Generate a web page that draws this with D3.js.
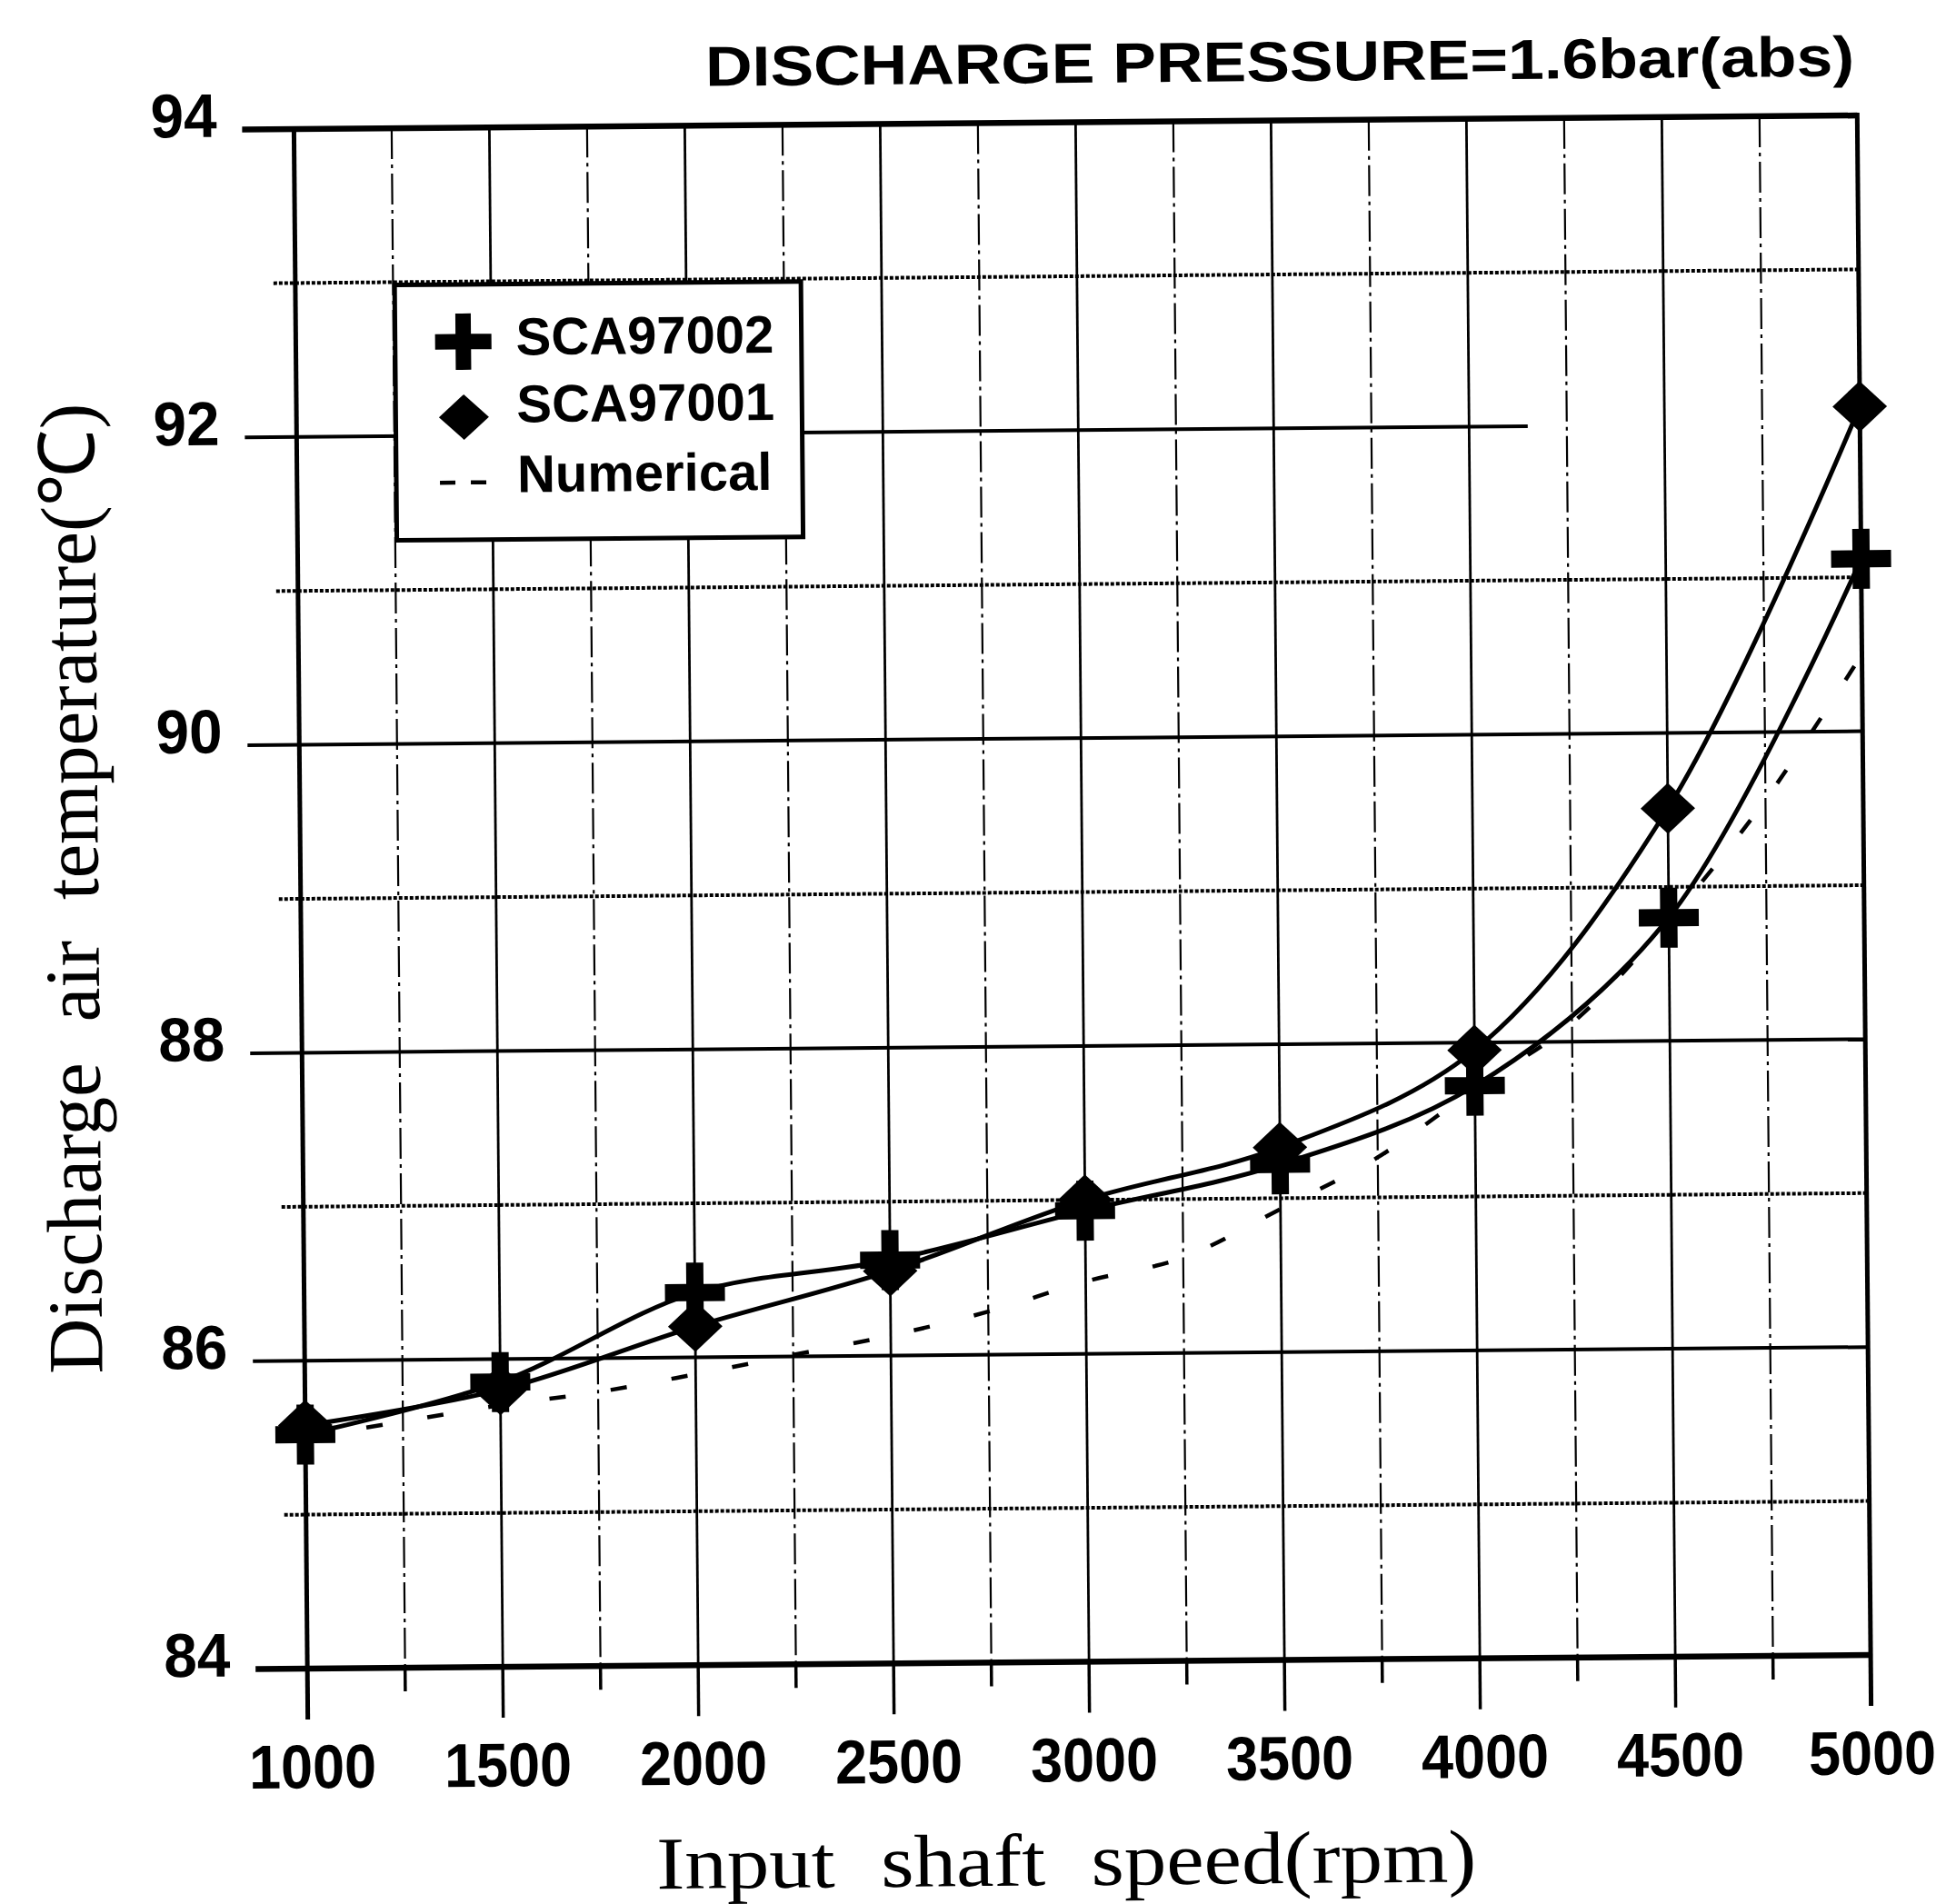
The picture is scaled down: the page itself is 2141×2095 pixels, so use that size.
<!DOCTYPE html>
<html>
<head>
  <meta charset="utf-8">
  <script src="https://d3js.org/d3.v7.min.js"></script>
  <style>
    body { margin: 0; background: #fff; }
    svg { display: block; }
  </style>
</head>
<body>
<script>
  var width = 2141,
      height = 2095;

  // values
  var speeds = [1000, 1500, 2000, 2500, 3000, 3500, 4000, 4500, 5000];
  var sca97002 = [85.52, 85.85, 86.42, 86.62, 86.93, 87.22, 87.72, 88.80, 91.12];
  var sca97001 = [85.58, 85.80, 86.20, 86.55, 87.00, 87.33, 87.95, 89.51, 92.11];

  var numSpeeds = [1000, 1250, 1500, 1750, 2000, 2250, 2500, 2750, 3000,
                   3250, 3500, 3750, 4000, 4250, 4500, 4750, 5000];
  var numerical = [85.50, 85.60, 85.70, 85.78, 85.89, 86.01, 86.13, 86.28, 86.47,
                   86.62, 86.93, 87.26, 87.70, 88.12, 88.78, 89.56, 90.50];

  var xTicks = [1000, 1500, 2000, 2500, 3000, 3500, 4000, 4500, 5000];
  var xGrid = [1000, 1250, 1500, 1750, 2000, 2250, 2500, 2750, 3000,
               3250, 3500, 3750, 4000, 4250, 4500, 4750, 5000];
  var yTicks = [84, 86, 88, 90, 92, 94];
  var yGrid = [84, 85, 86, 87, 88, 89, 90, 91, 92, 93, 94];

  var svg = d3.select('body')
    .append('svg')
    .attr('width', width)
    .attr('height', height);

  // the scan is tilted a little, so the whole figure is turned with it
  var g = svg.append('g')
    .attr('transform', 'rotate(-0.5,1190.75,981.5)');

  var x = d3.scaleLinear().domain([1000, 5000]).range([330.75, 2050.75]);
  var y = d3.scaleLinear().domain([84, 94]).range([1828.5, 134.5]);

  var sans = "'Liberation Sans', Arial, sans-serif";
  var serif = "'Liberation Serif', 'Times New Roman', serif";

  // vertical grid + ticks under the axis
  g.selectAll('.vgrid')
    .data(xGrid.slice(1, -1))
    .enter()
    .append('line')
    .attr('x1', function(d) { return x(d); })
    .attr('x2', function(d) { return x(d); })
    .attr('y1', y(94))
    .attr('y2', y(84))
    .attr('stroke', '#000')
    .attr('stroke-width', function(d) { return d % 500 ? 2.2 : 2.8; })
    .attr('stroke-dasharray', function(d) { return d % 500 ? '34 6 4 6' : null; });

  g.selectAll('.xtick')
    .data(xGrid)
    .enter()
    .append('line')
    .attr('x1', function(d) { return x(d); })
    .attr('x2', function(d) { return x(d); })
    .attr('y1', y(84))
    .attr('y2', function(d) { return y(84) + (d % 500 ? 26 : 56); })
    .attr('stroke', '#000')
    .attr('stroke-width', 3.5);

  // horizontal grid, long tick on the even values
  g.selectAll('.hgrid')
    .data(yGrid.slice(1, -1))
    .enter()
    .append('line')
    .attr('x1', function(d) { return x(1000) - (d % 2 ? 24 : 57); })
    .attr('x2', function(d) { return d === 92 ? x(4150) : x(5000); })
    .attr('y1', function(d) { return y(d); })
    .attr('y2', function(d) { return y(d); })
    .attr('stroke', '#000')
    .attr('stroke-width', 4)
    .attr('stroke-dasharray', function(d) { return d % 2 ? '4 2' : null; });

  // frame
  g.append('line').attr('x1', x(1000) - 57).attr('x2', x(5000)).attr('y1', y(94)).attr('y2', y(94))
    .attr('stroke', '#000').attr('stroke-width', 6.5);
  g.append('line').attr('x1', x(1000) - 57).attr('x2', x(5000)).attr('y1', y(84)).attr('y2', y(84))
    .attr('stroke', '#000').attr('stroke-width', 6.5);
  g.append('line').attr('x1', x(1000)).attr('x2', x(1000)).attr('y1', y(94)).attr('y2', y(84) + 56)
    .attr('stroke', '#000').attr('stroke-width', 5);
  g.append('line').attr('x1', x(5000)).attr('x2', x(5000)).attr('y1', y(94) - 3).attr('y2', y(84) + 56)
    .attr('stroke', '#000').attr('stroke-width', 5);

  // tick labels
  g.selectAll('.xlab')
    .data(xTicks)
    .enter()
    .append('text')
    .attr('x', function(d) { return d === 5000 ? x(d) + 1 : x(d) + 5; })
    .attr('y', 1960)
    .attr('text-anchor', 'middle')
    .attr('font-family', sans)
    .attr('font-weight', 'bold')
    .attr('font-size', 68)
    .attr('textLength', 140)
    .attr('lengthAdjust', 'spacingAndGlyphs')
    .text(function(d) { return d; });

  g.selectAll('.ylab')
    .data(yTicks)
    .enter()
    .append('text')
    .attr('x', 246)
    .attr('y', function(d) { return y(d) + 8; })
    .attr('text-anchor', 'end')
    .attr('font-family', sans)
    .attr('font-weight', 'bold')
    .attr('font-size', 68)
    .attr('textLength', 73)
    .attr('lengthAdjust', 'spacingAndGlyphs')
    .text(function(d) { return d; });

  // curves
  var line = d3.line()
    .x(function(d) { return x(d[0]); })
    .y(function(d) { return y(d[1]); })
    .curve(d3.curveCatmullRom.alpha(0.5));

  g.append('path')
    .attr('d', line(d3.zip(numSpeeds, numerical)))
    .attr('fill', 'none')
    .attr('stroke', '#000')
    .attr('stroke-width', 4.5)
    .attr('stroke-dasharray', '18 50');

  g.append('path')
    .attr('d', line(d3.zip(speeds, sca97002)))
    .attr('fill', 'none')
    .attr('stroke', '#000')
    .attr('stroke-width', 5);

  g.append('path')
    .attr('d', line(d3.zip(speeds, sca97001)))
    .attr('fill', 'none')
    .attr('stroke', '#000')
    .attr('stroke-width', 5);

  function plusPath(cx, cy, s, t) {
    var h = s / 2, w = t / 2, a = h - w;
    return 'M' + (cx - w) + ',' + (cy - h) + 'h' + t + 'v' + a + 'h' + a + 'v' + t +
      'h' + (-a) + 'v' + a + 'h' + (-t) + 'v' + (-a) + 'h' + (-a) + 'v' + (-t) + 'h' + a + 'Z';
  }
  function diamondPath(cx, cy, w, h) {
    return 'M' + cx + ',' + (cy - h / 2) + 'L' + (cx + w / 2) + ',' + cy +
      'L' + cx + ',' + (cy + h / 2) + 'L' + (cx - w / 2) + ',' + cy + 'Z';
  }

  g.selectAll('.m1')
    .data(d3.zip(speeds, sca97001))
    .enter()
    .append('path')
    .attr('d', function(d) { return diamondPath(x(d[0]), y(d[1]), 60, 56); })
    .attr('fill', '#000');

  g.selectAll('.m2')
    .data(d3.zip(speeds, sca97002))
    .enter()
    .append('path')
    .attr('d', function(d) { return plusPath(x(d[0]), y(d[1]), 66, 19); })
    .attr('fill', '#000');

  // legend
  var lx = 440, ly = 307;
  var lg = g.append('g').attr('transform', 'translate(' + lx + ',' + ly + ')');
  lg.append('rect')
    .attr('width', 447).attr('height', 281)
    .attr('fill', '#fff').attr('stroke', '#000').attr('stroke-width', 5);
  lg.append('path').attr('d', plusPath(75, 63, 62, 17)).attr('fill', '#000');
  lg.append('path').attr('d', diamondPath(75, 146, 55, 50)).attr('fill', '#000');
  lg.append('line').attr('x1', 48).attr('x2', 102).attr('y1', 218).attr('y2', 218)
    .attr('stroke', '#000').attr('stroke-width', 4.5).attr('stroke-dasharray', '17 17');

  var legendNames = ['SCA97002', 'SCA97001', 'Numerical'];
  var legendBase = [78, 152, 229];
  lg.selectAll('.lt')
    .data(legendNames)
    .enter()
    .append('text')
    .attr('x', 133)
    .attr('y', function(d, i) { return legendBase[i]; })
    .attr('font-family', sans)
    .attr('font-weight', 'bold')
    .attr('font-size', 58)
    .text(function(d) { return d; });

  // titles
  g.append('text')
    .attr('x', 2048)
    .attr('y', 91)
    .attr('text-anchor', 'end')
    .attr('font-family', sans)
    .attr('font-weight', 'bold')
    .attr('font-size', 62)
    .attr('textLength', 1264)
    .attr('lengthAdjust', 'spacingAndGlyphs')
    .text('DISCHARGE PRESSURE=1.6bar(abs)');

  g.append('text')
    .attr('x', 1164)
    .attr('y', 2074)
    .attr('text-anchor', 'middle')
    .attr('font-family', serif)
    .attr('font-size', 82)
    .attr('word-spacing', 24)
    .attr('textLength', 902)
    .attr('lengthAdjust', 'spacingAndGlyphs')
    .text('Input shaft speed(rpm)');

  g.append('text')
    .attr('transform', 'translate(108,968) rotate(-90)')
    .attr('text-anchor', 'middle')
    .attr('font-family', serif)
    .attr('font-size', 86)
    .attr('word-spacing', 24)
    .attr('textLength', 1068)
    .attr('lengthAdjust', 'spacingAndGlyphs')
    .text('Discharge air temperature(℃)');
</script>
</body>
</html>
